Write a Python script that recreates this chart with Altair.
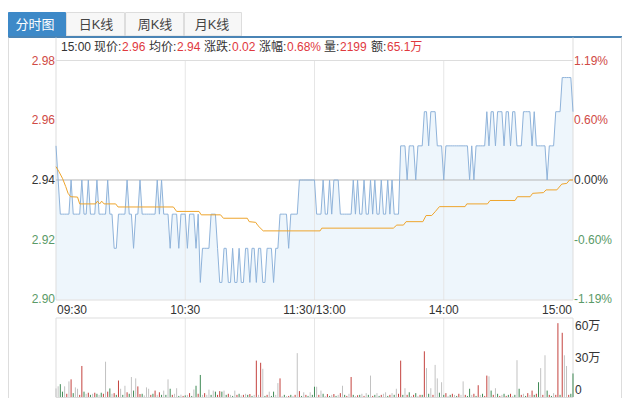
import altair as alt
import pandas as pd

# ---------------- data ----------------
TABS = ["分时图", "日K线", "周K线", "月K线"]
HEADER_TEXT = ["15:00", "现价:", "2.96", "均价:", "2.94", "涨跌:", "0.02", "涨幅:", "0.68%", "量:", "2199", "额:", "65.1万"]
HEADER_IS_VALUE = [0, 0, 1, 0, 1, 0, 1, 0, 1, 0, 1, 0, 1]

PREV_CLOSE = 2.94
PCT_TICKS = [1.19, 0.60, 0.00, -0.60, -1.19]
PRICE_LABELS = ["2.98", "2.96", "2.94", "2.92", "2.90"]
PCT_LABELS = ["1.19%", "0.60%", "0.00%", "-0.60%", "-1.19%"]
TIME_TICKS = [0, 60, 120, 180, 240]
TIME_LABELS = ["09:30", "10:30", "11:30/13:00", "14:00", "15:00"]
VOL_TICKS = [60, 30, 0]
VOL_LABELS = ["60万", "30万", "0"]

PRICE = [
    2.95, 2.94, 2.93, 2.93, 2.93, 2.93, 2.93, 2.94, 2.93, 2.93,
    2.93, 2.93, 2.94, 2.93, 2.93, 2.94, 2.93, 2.93, 2.93, 2.94,
    2.93, 2.93, 2.93, 2.93, 2.94, 2.93, 2.93, 2.92, 2.92, 2.93,
    2.93, 2.93, 2.93, 2.94, 2.93, 2.93, 2.92, 2.93, 2.93, 2.94,
    2.93, 2.93, 2.93, 2.93, 2.93, 2.93, 2.93, 2.94, 2.93, 2.94,
    2.93, 2.93, 2.93, 2.92, 2.93, 2.93, 2.93, 2.92, 2.93, 2.93,
    2.93, 2.92, 2.93, 2.93, 2.93, 2.92, 2.93, 2.91, 2.92, 2.92,
    2.92, 2.92, 2.93, 2.93, 2.93, 2.92, 2.91, 2.91, 2.92, 2.92,
    2.91, 2.91, 2.92, 2.91, 2.91, 2.92, 2.91, 2.91, 2.92, 2.92,
    2.91, 2.92, 2.92, 2.91, 2.92, 2.92, 2.91, 2.91, 2.92, 2.92,
    2.92, 2.91, 2.92, 2.92, 2.93, 2.93, 2.93, 2.93, 2.92, 2.93,
    2.93, 2.93, 2.93, 2.94, 2.94, 2.94, 2.94, 2.94, 2.94, 2.94,
    2.94, 2.93, 2.93, 2.93, 2.94, 2.93, 2.93, 2.94, 2.93, 2.94,
    2.94, 2.94, 2.93, 2.93, 2.93, 2.93, 2.93, 2.93, 2.94, 2.93,
    2.94, 2.93, 2.93, 2.94, 2.93, 2.93, 2.94, 2.93, 2.94, 2.93,
    2.93, 2.94, 2.93, 2.93, 2.94, 2.93, 2.94, 2.93, 2.93, 2.93,
    2.95, 2.95, 2.95, 2.94, 2.95, 2.95, 2.95, 2.94, 2.95, 2.95,
    2.95, 2.96, 2.96, 2.95, 2.96, 2.96, 2.96, 2.95, 2.95, 2.95,
    2.94, 2.95, 2.95, 2.95, 2.95, 2.95, 2.95, 2.95, 2.95, 2.95,
    2.95, 2.95, 2.94, 2.95, 2.94, 2.95, 2.95, 2.95, 2.95, 2.95,
    2.96, 2.95, 2.96, 2.96, 2.95, 2.96, 2.96, 2.96, 2.95, 2.96,
    2.96, 2.95, 2.96, 2.96, 2.95, 2.95, 2.95, 2.96, 2.96, 2.96,
    2.96, 2.95, 2.96, 2.95, 2.95, 2.95, 2.95, 2.95, 2.94, 2.95,
    2.95, 2.95, 2.96, 2.96, 2.96, 2.97, 2.97, 2.97, 2.97, 2.97,
    2.96,
]

AVG_M = [0, 1.4, 3, 4.5, 5.6, 6.8, 10, 11, 18.4, 19.2,
         20.3, 21.2, 22.3, 27.7, 28.8, 54.5, 56, 66.4, 67.4, 76.4,
         77.7, 88.8, 89.7, 92.7, 93.8, 96.2, 122.6, 123.4, 156.6, 158.2,
         161.3, 162.5, 170.3, 171.8, 174.4, 176, 178, 189.9, 190.7, 200.3,
         201.5, 213.1, 214.2, 220.1, 221.3, 226.3, 227.5, 232.5, 234.8, 237.1,
         238.4, 240]
AVG_P = [2.9439, 2.9424, 2.9405, 2.9381, 2.9361, 2.9351, 2.9350, 2.9330, 2.9330, 2.9338,
         2.9330, 2.9338, 2.9330, 2.9330, 2.9321, 2.9321, 2.9308, 2.9308, 2.9298, 2.9298,
         2.9288, 2.9288, 2.9278, 2.9276, 2.9266, 2.9251, 2.9251, 2.9259, 2.9259, 2.9268,
         2.9268, 2.9278, 2.9278, 2.9296, 2.9296, 2.9307, 2.9322, 2.9322, 2.9330, 2.9330,
         2.9340, 2.9340, 2.9351, 2.9351, 2.9361, 2.9363, 2.9371, 2.9371, 2.9388, 2.9390,
         2.9400, 2.9400]

# volume per minute, in 万 shares
VOLUME = [
    8, 10, 12, 5, 10, 3, 14.6, 16.5, 3.6, 9,
    7.7, 2, 29, 5, 3, 4, 2, 3, 4, 3,
    2, 4, 3, 33, 5, 8, 3, 3.6, 2, 15.4,
    7.7, 2, 10.5, 4.4, 3, 18.7, 6, 17.4, 9.9, 2.75,
    3, 1.5, 9, 7.7, 2, 3, 6, 2, 4.4, 2,
    6, 2, 16.5, 7.7, 2, 3, 8.2, 1, 2.2, 1,
    1.5, 2, 3.6, 1, 7, 10.5, 3, 20.6, 2, 3.6,
    2, 6.9, 2, 6, 5, 2, 5.5, 5, 6, 2,
    3, 2, 1, 6, 2, 3, 1.5, 2, 3, 2,
    2.75, 1, 2, 34, 2, 32, 26.4, 1, 2, 5,
    1, 5, 2, 13, 17.4, 1, 2, 0.8, 1, 2,
    1, 2, 41, 5.5, 1, 4.4, 2, 1, 4.4, 2,
    9.6, 9.6, 2, 6, 3, 1, 2.75, 1, 2, 2.75,
    1, 2, 3.6, 10.5, 2, 1, 3, 18.7, 2, 1,
    1.6, 2, 3, 1, 3.6, 2, 20, 1, 2, 3.6,
    1, 2, 3, 4.4, 1, 2, 3.6, 2, 7.7, 3,
    34, 2, 8.2, 2, 4.4, 1, 2, 3.6, 1, 2,
    2, 42.7, 27, 3, 8.2, 2, 30, 17.4, 4, 13.8,
    2, 3.6, 1, 2, 3, 2, 1, 3, 2, 14.6,
    2, 1, 7.7, 2, 3, 1, 11, 2, 3, 1,
    20, 19.3, 6, 2, 8.2, 3, 1, 2, 3, 1,
    2, 3, 1, 2, 34.4, 7.7, 2, 3, 1, 3.6,
    2, 6, 2, 3, 13.8, 27, 2, 39, 6, 2,
    1, 3.6, 2, 69, 2, 60, 39, 29, 2, 3,
    22,
]
VOL_DIR = ("nnggnrnrgn" "nrrgnrgnrg" "ngrnrgnrgr" "ngnrgngnrr" "gnnnrgrnrg"
           "ngngrnngnr" "gnrgngrgnr" "nngngrrgng" "rngnrgnrng" "rgnrnrngrn"
           "ggnnrngnrg" "nrnrgnrgng" "gnrngnrgnr" "gnrngrnrgn" "rgnrngnrgn"
           "grnngrngnr" "rgnrgnrgnr" "grngnrnngn" "grngrngrnn" "rggnrgrngr"
           "rngrngrngr" "grngngrngr" "nrgrgnrngr" "gnrrgrnnrg" "g")

# ---------------- styles ----------------
FONT = "Liberation Sans, Noto Sans CJK SC, sans-serif"
RED = "#d04a45"
GREEN = "#5a9a68"
DARK = "#333333"
DIR_COLOR = {"r": "#c4433f", "g": "#3f8a55", "n": "#c2c2c2"}

XS = alt.Scale(domain=[-22.283, 262.75], nice=False, zero=False)
PS = alt.Scale(domain=[2.876164, 2.990366], nice=False, zero=False)
VS = alt.Scale(domain=[-0.935, 363.55], nice=False, zero=False)


def X():
    return alt.X("m:Q", scale=XS, axis=None)


def YP(f="p:Q"):
    return alt.Y(f, scale=PS, axis=None)


def YV(f="v:Q"):
    return alt.Y(f, scale=VS, axis=None)


one = pd.DataFrame({"a": [0]})
price_df = pd.DataFrame({"m": list(range(len(PRICE))), "p": PRICE})
avg_df = pd.DataFrame({"m": AVG_M, "p": AVG_P})
vol_df = pd.DataFrame([
    {"m": i, "v": v, "c": DIR_COLOR[d]} for i, (v, d) in enumerate(zip(VOLUME, VOL_DIR))
])

low = PREV_CLOSE * (1 + PCT_TICKS[-1] / 100)
tick_colors = [RED, RED, DARK, GREEN, GREEN]
ptick_df = pd.DataFrame({
    "p": [PREV_CLOSE * (1 + t / 100) for t in PCT_TICKS],
    "lab": PRICE_LABELS,
    "pct": PCT_LABELS,
    "c": tick_colors,
})

layers = []

# tabs
tab_x = [(0, 58), (58, 117), (117, 176), (176, 234)]
tab_cx = [27, 88, 147, 204]
for i, name in enumerate(TABS):
    active = i == 0
    layers.append(
        alt.Chart(one).mark_rect(
            color="#3d89c8" if active else "#f7f7f7",
            stroke="#3d89c8" if active else "#dddddd",
            strokeWidth=1,
        ).encode(x=alt.value(tab_x[i][0] + 0.5), x2=alt.value(tab_x[i][1] - 0.5),
                 y=alt.value(4.5), y2=alt.value(28))
    )
    layers.append(
        alt.Chart(one).mark_text(
            text=name, font=FONT, fontSize=13, color="white" if active else "#444444",
            align="center", baseline="middle",
        ).encode(x=alt.value(tab_cx[i]), y=alt.value(17))
    )
layers.append(
    alt.Chart(one).mark_rule(color="#4a84b5", strokeWidth=2).encode(
        x=alt.value(0), x2=alt.value(614), y=alt.value(29))
)

# header (segments laid out left to right)
head_x = [53, 86, 114, 141, 169, 196, 224, 251, 279, 316, 332, 363, 379]
for t, isv, hx in zip(HEADER_TEXT, HEADER_IS_VALUE, head_x):
    layers.append(
        alt.Chart(one).mark_text(
            text=t, font=FONT, fontSize=12, color="#e0393e" if isv else DARK,
            align="left", baseline="middle",
        ).encode(x=alt.value(hx), y=alt.value(39))
    )

# area under price
layers.append(
    alt.Chart(price_df).mark_area(color="#eef6fc", opacity=1).encode(
        x=X(), y=YP(), y2=alt.datum(low))
)

# vertical grid lines (price and volume panels)
grid_df = pd.DataFrame({"m": TIME_TICKS[1:4]})
for y1, y2 in [(52.5, 292), (310, 389.5)]:
    layers.append(
        alt.Chart(grid_df).mark_rule(color="#e6e6e6", strokeWidth=1).encode(
            x=X(), y=alt.value(y1), y2=alt.value(y2))
    )

# frame lines
frame = [
    (48, 48, 29.5, 292), (565, 565, 29.5, 292),
    (48, 48, 310, 389.5), (565, 565, 310, 389.5),
    (0.5, 0.5, 29.5, 390), (613.5, 613.5, 29.5, 390),
]
for x1, x2, y1, y2 in frame:
    layers.append(
        alt.Chart(one).mark_rule(color="#dddddd", strokeWidth=1).encode(
            x=alt.value(x1), x2=alt.value(x2), y=alt.value(y1), y2=alt.value(y2))
    )
for y in [52.5, 292, 310, 389.5]:
    layers.append(
        alt.Chart(one).mark_rule(color="#dddddd", strokeWidth=1).encode(
            x=alt.value(48), x2=alt.value(565), y=alt.value(y), y2=alt.value(y))
    )

# previous close line
layers.append(
    alt.Chart(pd.DataFrame({"p": [PREV_CLOSE]})).mark_rule(color="#b5b5b5", strokeWidth=1).encode(
        y=YP(), x=alt.value(48), x2=alt.value(565))
)

# price and average lines
layers.append(
    alt.Chart(price_df).mark_line(color="#8fb3da", strokeWidth=1).encode(x=X(), y=YP())
)
layers.append(
    alt.Chart(avg_df).mark_line(color="#eea52d", strokeWidth=1).encode(x=X(), y=YP())
)

# volume bars
layers.append(
    alt.Chart(vol_df).mark_rule(strokeWidth=1).encode(
        x=X(), y=YV(), y2=alt.datum(0), color=alt.Color("c:N", scale=None))
)

# axis labels
layers.append(
    alt.Chart(ptick_df).mark_text(font=FONT, fontSize=12, align="right", baseline="middle").encode(
        x=alt.value(47), y=YP(), text="lab:N", color=alt.Color("c:N", scale=None))
)
layers.append(
    alt.Chart(ptick_df).mark_text(font=FONT, fontSize=12, align="left", baseline="middle").encode(
        x=alt.value(566), y=YP(), text="pct:N", color=alt.Color("c:N", scale=None))
)

time_df = pd.DataFrame({"m": TIME_TICKS, "t": TIME_LABELS})
for sub, al, dx in [(time_df.iloc[:1], "left", 1), (time_df.iloc[1:4], "center", 0), (time_df.iloc[4:], "right", -1)]:
    layers.append(
        alt.Chart(sub).mark_text(font=FONT, fontSize=12, align=al, baseline="middle", color=DARK, dx=dx).encode(
            x=X(), y=alt.value(302), text="t:N")
    )

vt_df = pd.DataFrame({"v": VOL_TICKS, "t": VOL_LABELS})
layers.append(
    alt.Chart(vt_df).mark_text(font=FONT, fontSize=12, align="left", baseline="middle", color=DARK, dy=-7).encode(
        x=alt.value(567), y=YV(), text="t:N")
)

chart = alt.layer(*layers).resolve_scale(y="independent").properties(
    width=614, height=390, padding=0,
    autosize=alt.AutoSizeParams(type="none"),
).configure_view(stroke=None)

chart.save("out.html", embed_options={"renderer": "svg", "actions": False})
